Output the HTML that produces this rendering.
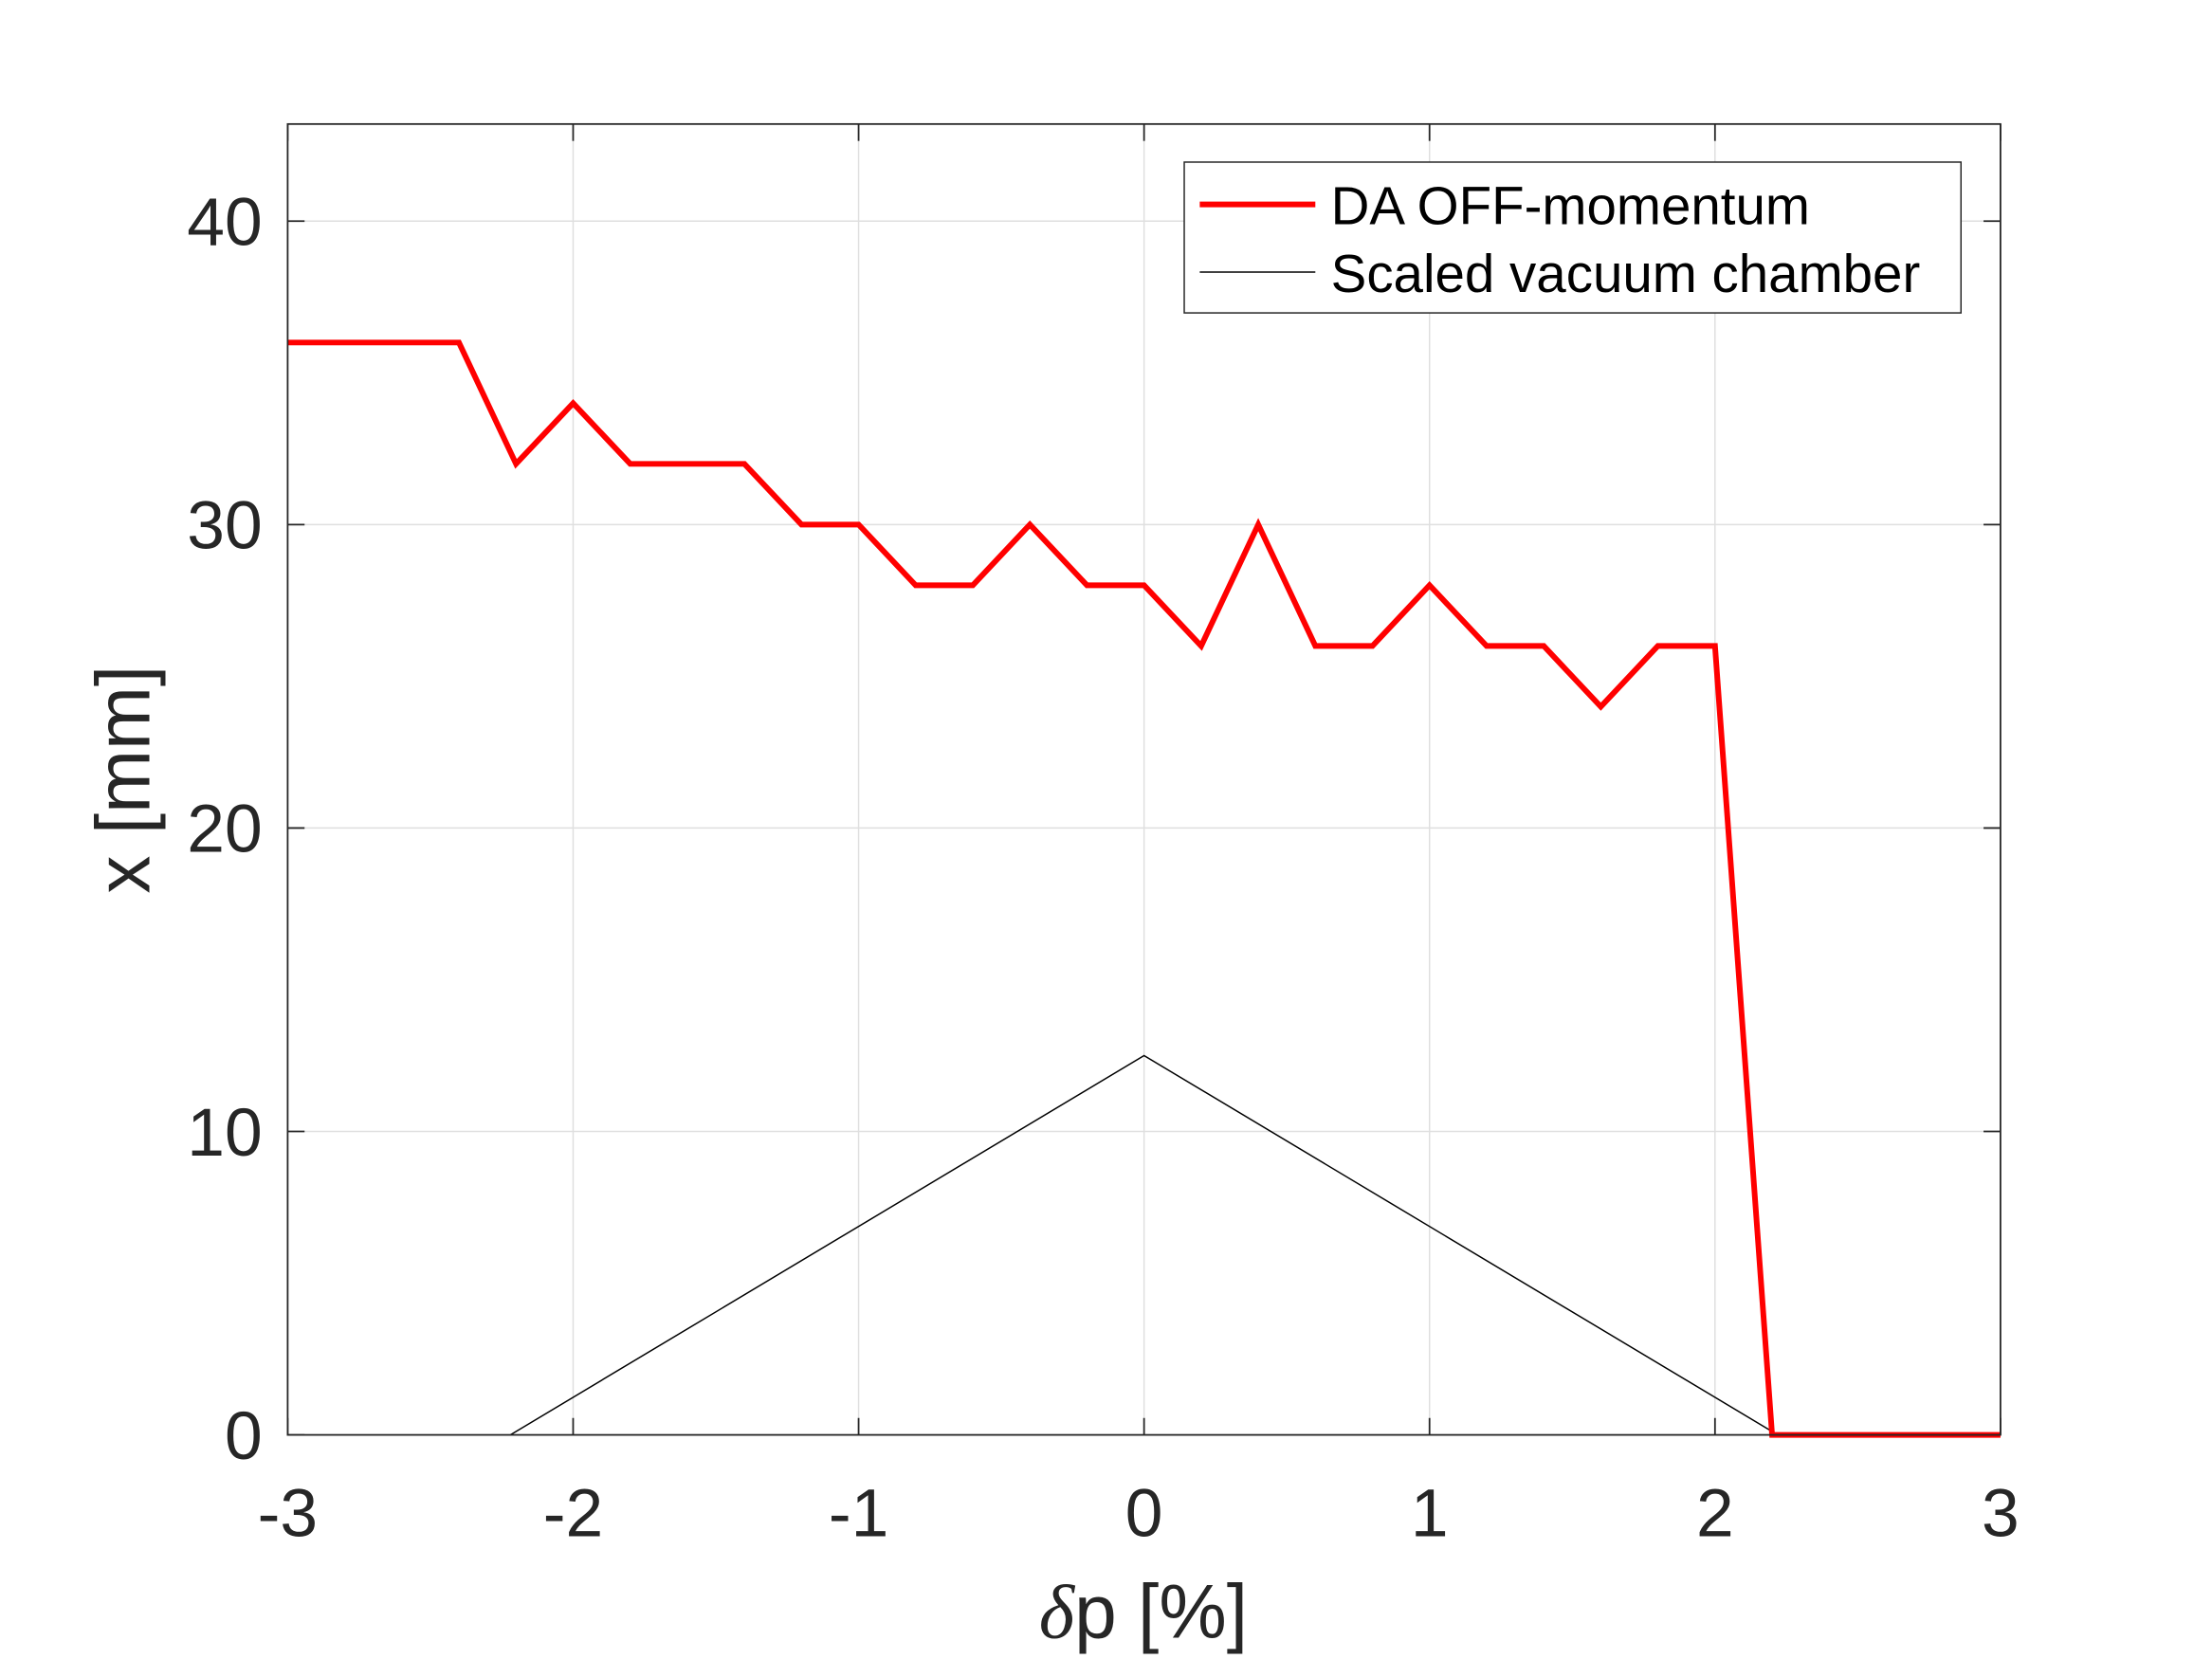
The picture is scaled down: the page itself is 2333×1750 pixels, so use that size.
<!DOCTYPE html>
<html><head><meta charset="utf-8"><style>html,body{margin:0;padding:0;background:#fff}svg{display:block}</style></head>
<body>
<svg id="chart" width="2333" height="1750" viewBox="0 0 1569 1177" xmlns="http://www.w3.org/2000/svg" font-family="'Liberation Sans', sans-serif">
<rect width="1569" height="1177" fill="#fff"/>
<g id="grid"></g>
<g id="ticks"></g>
<g id="series"></g>
<rect x="204" y="88" width="1215" height="930" fill="none" stroke="#262626" stroke-width="1.2"/>
<text x="811" y="1162" text-anchor="middle" font-size="54" fill="#262626"><tspan font-family="'Liberation Serif', serif" font-style="italic">δ</tspan>p [%]</text>
<text transform="translate(106,553) rotate(-90)" text-anchor="middle" font-size="54" fill="#262626">x [mm]</text>
<g>
<rect x="840" y="115" width="551" height="107" fill="#fff" stroke="#262626" stroke-width="1"/>
<line x1="851" y1="145" x2="933" y2="145" stroke="#ff0000" stroke-width="4"/>
<text x="944" y="159" font-size="38" fill="#000">DA OFF-momentum</text>
<line x1="851" y1="193" x2="933" y2="193" stroke="#000" stroke-width="1"/>
<text x="944" y="207" font-size="38" fill="#000">Scaled vacuum chamber</text>
</g>
</svg>
<script>
const xTicks = [-3,-2,-1,0,1,2,3];
const yTicks = [0,10,20,30,40];
const daX = [-3,-2.8,-2.6,-2.4,-2.2,-2,-1.8,-1.6,-1.4,-1.2,-1,-0.8,-0.6,-0.4,-0.2,0,0.2,0.4,0.6,0.8,1,1.2,1.4,1.6,1.8,2,2.2,2.4,2.6,2.8,3];
const daY = [36,36,36,36,32,34,32,32,32,30,30,28,28,30,28,28,26,30,26,26,28,26,26,24,26,26,0,0,0,0,0];
const chX = [-2.22,0,2.22];
const chY = [0,12.5,0];
const L=204,R=1419,T=88,B=1018,xmin=-3,xmax=3,ymin=0,ymax=43.2;
const sx=v=>L+(v-xmin)/(xmax-xmin)*(R-L);
const sy=v=>B-(v-ymin)/(ymax-ymin)*(B-T);
const NS='http://www.w3.org/2000/svg';
function mk(tag,attrs,parent){const e=document.createElementNS(NS,tag);for(const k in attrs)e.setAttribute(k,attrs[k]);parent.appendChild(e);return e;}
const grid=document.getElementById('grid'),ticks=document.getElementById('ticks'),series=document.getElementById('series');
xTicks.forEach(v=>{const x=sx(v);
 const g=mk('line',{x1:x,y1:T,x2:x,y2:B,stroke:'#dfdfdf','stroke-width':1},grid);
 
 
 mk('line',{x1:x,y1:B,x2:x,y2:B-12,stroke:'#262626','stroke-width':1.2},ticks);
 mk('line',{x1:x,y1:T,x2:x,y2:T+12,stroke:'#262626','stroke-width':1.2},ticks);
 const t=mk('text',{x:x,y:1090,'text-anchor':'middle','font-size':48,fill:'#262626'},ticks);
 
 
 t.textContent=v;});
yTicks.forEach(v=>{const y=sy(v);
 const g=mk('line',{x1:L,y1:y,x2:R,y2:y,stroke:'#dfdfdf','stroke-width':1},grid);
 
 
 mk('line',{x1:L,y1:y,x2:L+12,y2:y,stroke:'#262626','stroke-width':1.2},ticks);
 mk('line',{x1:R,y1:y,x2:R-12,y2:y,stroke:'#262626','stroke-width':1.2},ticks);
 const t=mk('text',{x:186,y:y+17,'text-anchor':'end','font-size':48,fill:'#262626'},ticks);
 
 
 t.textContent=v;});
const ch=mk('polyline',{points:chX.map((x,i)=>sx(x)+','+sy(chY[i])).join(' '),fill:'none',stroke:'#000','stroke-width':1},series);


const da=mk('polyline',{points:daX.map((x,i)=>sx(x)+','+sy(daY[i])).join(' '),fill:'none',stroke:'#ff0000','stroke-width':4,'stroke-linejoin':'miter'},series);


</script>
</body></html>
